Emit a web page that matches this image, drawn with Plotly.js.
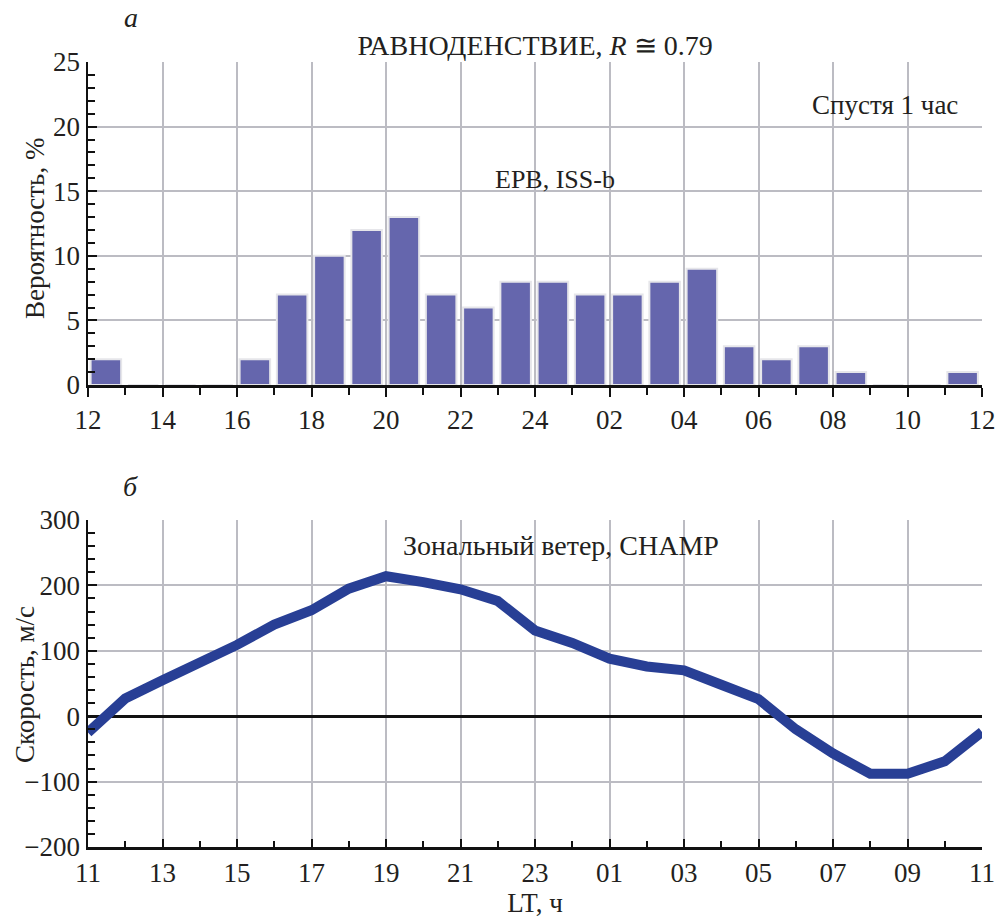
<!DOCTYPE html>
<html>
<head>
<meta charset="utf-8">
<script src="https://cdn.plot.ly/plotly-3.0.1.min.js"></script>
<style>html,body{margin:0;padding:0;background:#fff;}</style>
</head>
<body>
<div id="chart" style="width:996px;height:918px;"></div>
<script>
// ---- data: panel a (EPB occurrence probability, ISS-b), hourly bins starting at LT ----
var binStart = [12,13,14,15,16,17,18,19,20,21,22,23,24,25,26,27,28,29,30,31,32,33,34,35];
var probability = [2,0,0,0,2,7,10,12,13,7,6,8,8,7,7,8,9,3,2,3,1,0,0,1];
var topTickVals = [12,14,16,18,20,22,24,26,28,30,32,34,36];
var topTickText = ["12","14","16","18","20","22","24","02","04","06","08","10","12"];

// ---- data: panel б (zonal wind, CHAMP) ----
var windHour = [11,12,13,14,15,16,17,18,19,20,21,22,23,24,25,26,27,28,29,30,31,32,33,34,35];
var windSpeed = [-25,27,55,80,109,140,162,195,214,205,194,176,131,112,88,76,70,48,26,-20,-57,-88,-88,-69,-24];
var botTickVals = [11,13,15,17,19,21,23,25,27,29,31,33,35];
var botTickText = ["11","13","15","17","19","21","23","01","03","05","07","09","11"];
var leftTickVals = [-200,-100,0,100,200,300];
var leftTickText = ["−200","−100","0","100","200","300"];

var FONT = "Liberation Serif, Times New Roman, serif";
var TXT = "#231f20";
var GRID = "#bcbcc3";
var TICKSIZE = 27;

var traces = [
  {
    type: "bar", x: binStart, y: probability, xaxis: "x", yaxis: "y",
    offset: 0.07, width: 0.82,
    marker: {color: "#6566ad", line: {color: "#e6e6ea", width: 2}},
    hoverinfo: "x+y", showlegend: false
  },
  {
    type: "scatter", mode: "lines", x: windHour, y: windSpeed, xaxis: "x2", yaxis: "y2",
    line: {color: "#283f95", width: 10}, showlegend: false
  }
];

function axis(extra) {
  var a = {
    showline: true, linecolor: "#111", linewidth: 2.5,
    showgrid: true, gridcolor: GRID, gridwidth: 2,
    tickfont: {family: FONT, size: TICKSIZE, color: TXT},
    tickcolor: "#111", tickwidth: 2, zeroline: false
  };
  for (var k in extra) a[k] = extra[k];
  return a;
}

function ann(text, x, y, size, angle) {
  return {text: text, xref: "paper", yref: "paper", x: x, y: y, xanchor: "center", yanchor: "middle",
          showarrow: false, textangle: angle || 0, font: {family: FONT, size: size, color: TXT}};
}

var layout = {
  width: 996, height: 918,
  margin: {l: 88, r: 14, t: 62, b: 71},
  paper_bgcolor: "#fff", plot_bgcolor: "#fff",
  font: {family: FONT, color: TXT, size: TICKSIZE},
  showlegend: false,
  xaxis: axis({
    domain: [0, 1], anchor: "y", range: [12, 36],
    tickmode: "array", tickvals: topTickVals, ticktext: topTickText,
    ticks: "outside", ticklen: 9,
    minor: {dtick: 1, ticks: "outside", ticklen: 7, tickcolor: "#111", tickwidth: 2, showgrid: false}
  }),
  yaxis: axis({
    domain: [0.5885, 1], anchor: "x", range: [0, 25],
    tickmode: "array", tickvals: [0,5,10,15,20,25], ticks: "inside", ticklen: 9,
    minor: {dtick: 1, ticks: "inside", ticklen: 7, tickcolor: "#111", tickwidth: 2, showgrid: false}
  }),
  xaxis2: axis({
    domain: [0, 1], anchor: "y2", range: [11, 35],
    tickmode: "array", tickvals: botTickVals, ticktext: botTickText,
    ticks: "inside", ticklen: 8,
    minor: {dtick: 1, ticks: "inside", ticklen: 6, tickcolor: "#111", tickwidth: 2, showgrid: false},
    title: {text: "LT, ч", font: {family: FONT, size: 27, color: TXT}, standoff: 5}
  }),
  yaxis2: axis({
    domain: [0, 0.4166], anchor: "x2", range: [-200, 300],
    tickmode: "array", tickvals: leftTickVals, ticktext: leftTickText,
    ticks: "inside", ticklen: 9,
    minor: {dtick: 20, ticks: "inside", ticklen: 7, tickcolor: "#111", tickwidth: 2, showgrid: false},
    zeroline: true, zerolinecolor: "#111", zerolinewidth: 3
  }),
  title: {
    text: "РАВНОДЕНСТВИЕ, <i>R</i> ≅ 0.79",
    font: {family: FONT, size: 28, color: TXT},
    x: 0.5, xanchor: "center", y: 0.951, yanchor: "middle", xref: "paper", yref: "container"
  },
  annotations: [
    ann("<i>а</i>", 0.048, 1.057, 28),
    ann("Спустя 1 час", 0.8915, 0.945, 27),
    ann("EPB, ISS-b", 0.522, 0.8497, 26),
    ann("<i>б</i>", 0.048, 0.4586, 28),
    ann("Зональный ветер, CHAMP", 0.529, 0.3847, 28),
    ann("Вероятность, %", -0.0593, 0.7885, 27, -90),
    ann("Скорость, м/с", -0.0705, 0.2076, 27, -90)
  ]
};

Plotly.newPlot("chart", traces, layout, {displayModeBar: false, staticPlot: true});
</script>
</body>
</html>
